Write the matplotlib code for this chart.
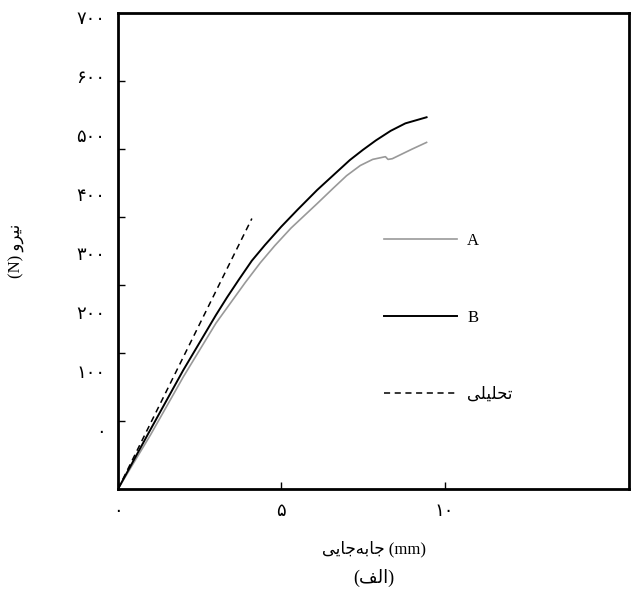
import numpy as np
import matplotlib
matplotlib.use("Agg")
import matplotlib.pyplot as plt

plt.rcParams['font.family'] = ['Liberation Serif', 'DejaVu Sans']

# Persian text, pre-shaped (presentation forms, visual order)
ylabel_txt = "(N) \uFEED\uFEAE\uFEF4\uFEE7"                       # نیرو (N)
xlabel_txt = "\uFEF0\uFEF3\uFE8E\uFE9F\uFEEA\uFE91\uFE8E\uFE9F (mm)"  # جابه‌جایی (mm)
caption_txt = "(\uFED2\uFEDF\uFE8D)"                                # (الف)
analytic_txt = "\uFEF0\uFEE0\uFEF4\uFEE0\uFEA4\uFE97"               # تحلیلی

# series (displacement mm, force N)
a_x = [0, 1, 2, 3, 3.45, 3.9, 4.36, 4.8, 5.3, 5.7, 6.1, 6.6, 7.0, 7.42, 7.8, 8.19, 8.27, 8.4, 9.0, 9.45]
a_y = [0, 80, 165, 244, 274, 304, 333, 358, 384, 402, 420, 443, 461, 476, 485, 489, 485, 486, 500, 510]

b_x = [0, 1, 2, 3, 3.34, 3.7, 4.1, 4.5, 5.0, 5.5, 6.1, 6.6, 7.1, 7.5, 7.9, 8.35, 8.8, 9.45]
b_y = [0, 88, 175, 256, 282, 308, 336, 359, 386, 411, 440, 462, 484, 499, 513, 527, 538, 547]

an_x = [0, 4.1]
an_y = [0, 398]

x_ticks = [0, 5, 10]
x_labels = ["\u06F0", "\u06F5", "\u06F1\u06F0"]
y_vals = [0, 100, 200, 300, 400, 500, 600, 700]
y_labels = ["\u06F0", "\u06F1\u06F0\u06F0", "\u06F2\u06F0\u06F0", "\u06F3\u06F0\u06F0",
            "\u06F4\u06F0\u06F0", "\u06F5\u06F0\u06F0", "\u06F6\u06F0\u06F0", "\u06F7\u06F0\u06F0"]

fig = plt.figure(figsize=(6.33, 6.03), dpi=100)
ax = fig.add_axes([0.1864, 0.189, 0.8073, 0.789])

ax.plot(a_x, a_y, color='#999999', lw=1.2, label='A')
ax.plot(b_x, b_y, color='black', lw=1.4, label='B')
ax.plot(an_x, an_y, color='black', lw=1.1, ls=(0, (4, 3)), label=analytic_txt)

ax.set_xlim(0, 15.65)
ax.set_ylim(0, 700)

for s in ax.spines.values():
    s.set_linewidth(2)

ax.set_xticks(x_ticks)
ax.set_xticklabels(x_labels, fontsize=13, family='DejaVu Sans')
ax.tick_params(axis='x', direction='in', length=5, width=1, pad=9)

# the original prints the y labels on a slightly tighter scale than the tick marks
ax.set_yticks([100, 200, 300, 400, 500, 600], minor=True)
ax.tick_params(axis='y', which='minor', direction='in', length=5, width=1)
label_pos = [87 + v * 0.867 for v in y_vals]
ax.set_yticks(label_pos)
ax.set_yticklabels(y_labels, fontsize=13, family='DejaVu Sans')
ax.tick_params(axis='y', which='major', length=0, pad=9)

ax.set_xlabel(xlabel_txt, fontsize=12, labelpad=15)
ax.set_ylabel(ylabel_txt, fontsize=12)
ax.yaxis.set_label_coords(-0.182, 0.5)
fig.text(0.5 * (0.1864 + 0.9937), 1 - 578 / 603, caption_txt, fontsize=13,
         ha='center', va='center')

ax.legend(loc='upper left', bbox_to_anchor=(0.52, 0.538), frameon=False,
          fontsize=12, handlelength=4.4, handletextpad=0.6, labelspacing=3.66,
          borderpad=0, borderaxespad=0)

fig.savefig('out.png', dpi=100)
